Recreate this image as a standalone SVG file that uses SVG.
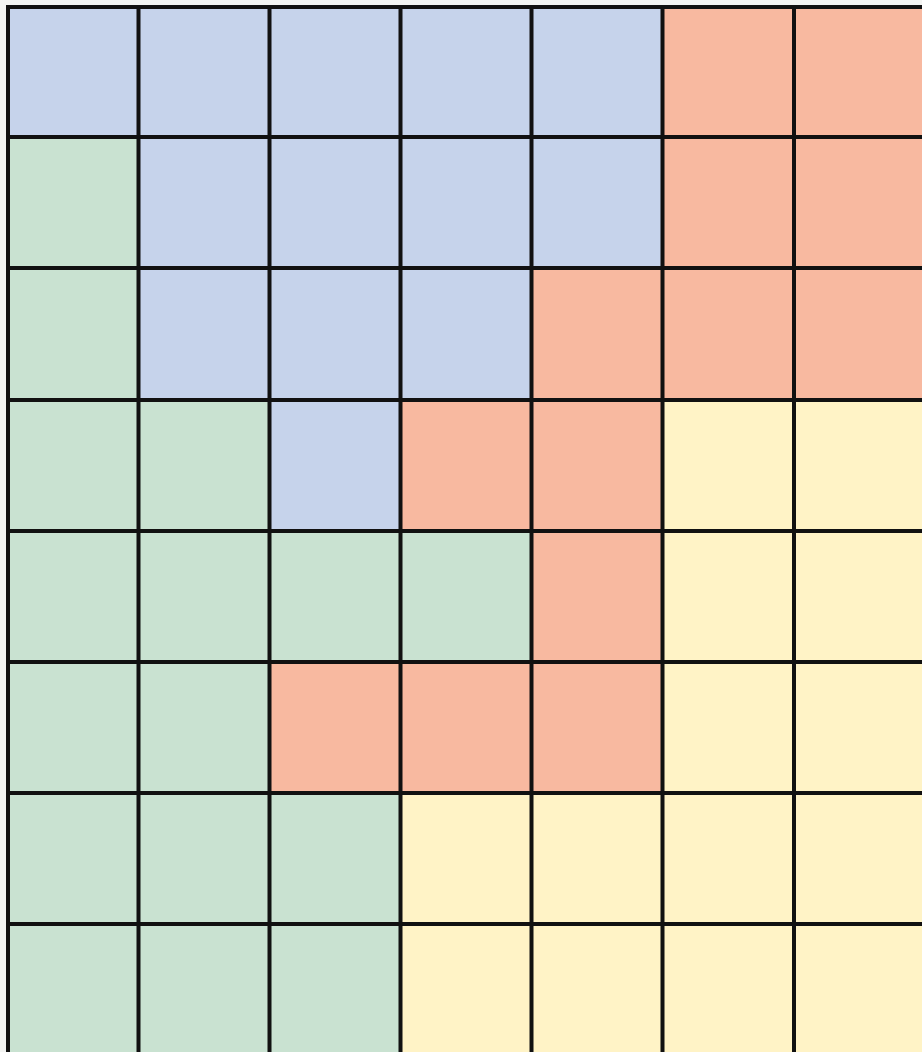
<svg xmlns="http://www.w3.org/2000/svg" width="922" height="1052" viewBox="0 0 922 1052">
<style>
.b{fill:#c6d3eb}.g{fill:#c9e2d1}.o{fill:#f8b9a0}.y{fill:#fff3c6}
.ln{stroke:#111;stroke-width:4;fill:none}
</style>
<rect width="922" height="1052" fill="#f3f4f2"/>
<g id="cells">
<!-- row 0 -->
<rect class="b" x="8" y="7" width="130.5" height="130"/>
<rect class="b" x="138.5" y="7" width="131" height="130"/>
<rect class="b" x="269.5" y="7" width="131" height="130"/>
<rect class="b" x="400.5" y="7" width="131" height="130"/>
<rect class="b" x="531.5" y="7" width="131" height="130"/>
<rect class="o" x="662.5" y="7" width="131.5" height="130"/>
<rect class="o" x="794" y="7" width="128" height="130"/>
<!-- row 1 -->
<rect class="g" x="8" y="137" width="130.5" height="131"/>
<rect class="b" x="138.5" y="137" width="131" height="131"/>
<rect class="b" x="269.5" y="137" width="131" height="131"/>
<rect class="b" x="400.5" y="137" width="131" height="131"/>
<rect class="b" x="531.5" y="137" width="131" height="131"/>
<rect class="o" x="662.5" y="137" width="131.5" height="131"/>
<rect class="o" x="794" y="137" width="128" height="131"/>
<!-- row 2 -->
<rect class="g" x="8" y="268" width="130.5" height="132"/>
<rect class="b" x="138.5" y="268" width="131" height="132"/>
<rect class="b" x="269.5" y="268" width="131" height="132"/>
<rect class="b" x="400.5" y="268" width="131" height="132"/>
<rect class="o" x="531.5" y="268" width="131" height="132"/>
<rect class="o" x="662.5" y="268" width="131.5" height="132"/>
<rect class="o" x="794" y="268" width="128" height="132"/>
<!-- row 3 -->
<rect class="g" x="8" y="400" width="130.5" height="131"/>
<rect class="g" x="138.5" y="400" width="131" height="131"/>
<rect class="b" x="269.5" y="400" width="131" height="131"/>
<rect class="o" x="400.5" y="400" width="131" height="131"/>
<rect class="o" x="531.5" y="400" width="131" height="131"/>
<rect class="y" x="662.5" y="400" width="131.5" height="131"/>
<rect class="y" x="794" y="400" width="128" height="131"/>
<!-- row 4 -->
<rect class="g" x="8" y="531" width="130.5" height="131"/>
<rect class="g" x="138.5" y="531" width="131" height="131"/>
<rect class="g" x="269.5" y="531" width="131" height="131"/>
<rect class="g" x="400.5" y="531" width="131" height="131"/>
<rect class="o" x="531.5" y="531" width="131" height="131"/>
<rect class="y" x="662.5" y="531" width="131.5" height="131"/>
<rect class="y" x="794" y="531" width="128" height="131"/>
<!-- row 5 -->
<rect class="g" x="8" y="662" width="130.5" height="131"/>
<rect class="g" x="138.5" y="662" width="131" height="131"/>
<rect class="o" x="269.5" y="662" width="131" height="131"/>
<rect class="o" x="400.5" y="662" width="131" height="131"/>
<rect class="o" x="531.5" y="662" width="131" height="131"/>
<rect class="y" x="662.5" y="662" width="131.5" height="131"/>
<rect class="y" x="794" y="662" width="128" height="131"/>
<!-- row 6 -->
<rect class="g" x="8" y="793" width="130.5" height="131"/>
<rect class="g" x="138.5" y="793" width="131" height="131"/>
<rect class="g" x="269.5" y="793" width="131" height="131"/>
<rect class="y" x="400.5" y="793" width="131" height="131"/>
<rect class="y" x="531.5" y="793" width="131" height="131"/>
<rect class="y" x="662.5" y="793" width="131.5" height="131"/>
<rect class="y" x="794" y="793" width="128" height="131"/>
<!-- row 7 -->
<rect class="g" x="8" y="924" width="130.5" height="128"/>
<rect class="g" x="138.5" y="924" width="131" height="128"/>
<rect class="g" x="269.5" y="924" width="131" height="128"/>
<rect class="y" x="400.5" y="924" width="131" height="128"/>
<rect class="y" x="531.5" y="924" width="131" height="128"/>
<rect class="y" x="662.5" y="924" width="131.5" height="128"/>
<rect class="y" x="794" y="924" width="128" height="128"/>
</g>
<g id="gridlines" class="ln">
<path d="M8 5V1052M138.5 5V1052M269.5 5V1052M400.5 5V1052M531.5 5V1052M662.5 5V1052M794 5V1052"/>
<path d="M6 7H922M6 137H922M6 268H922M6 400H922M6 531H922M6 662H922M6 793H922M6 924H922"/>
</g>
</svg>
